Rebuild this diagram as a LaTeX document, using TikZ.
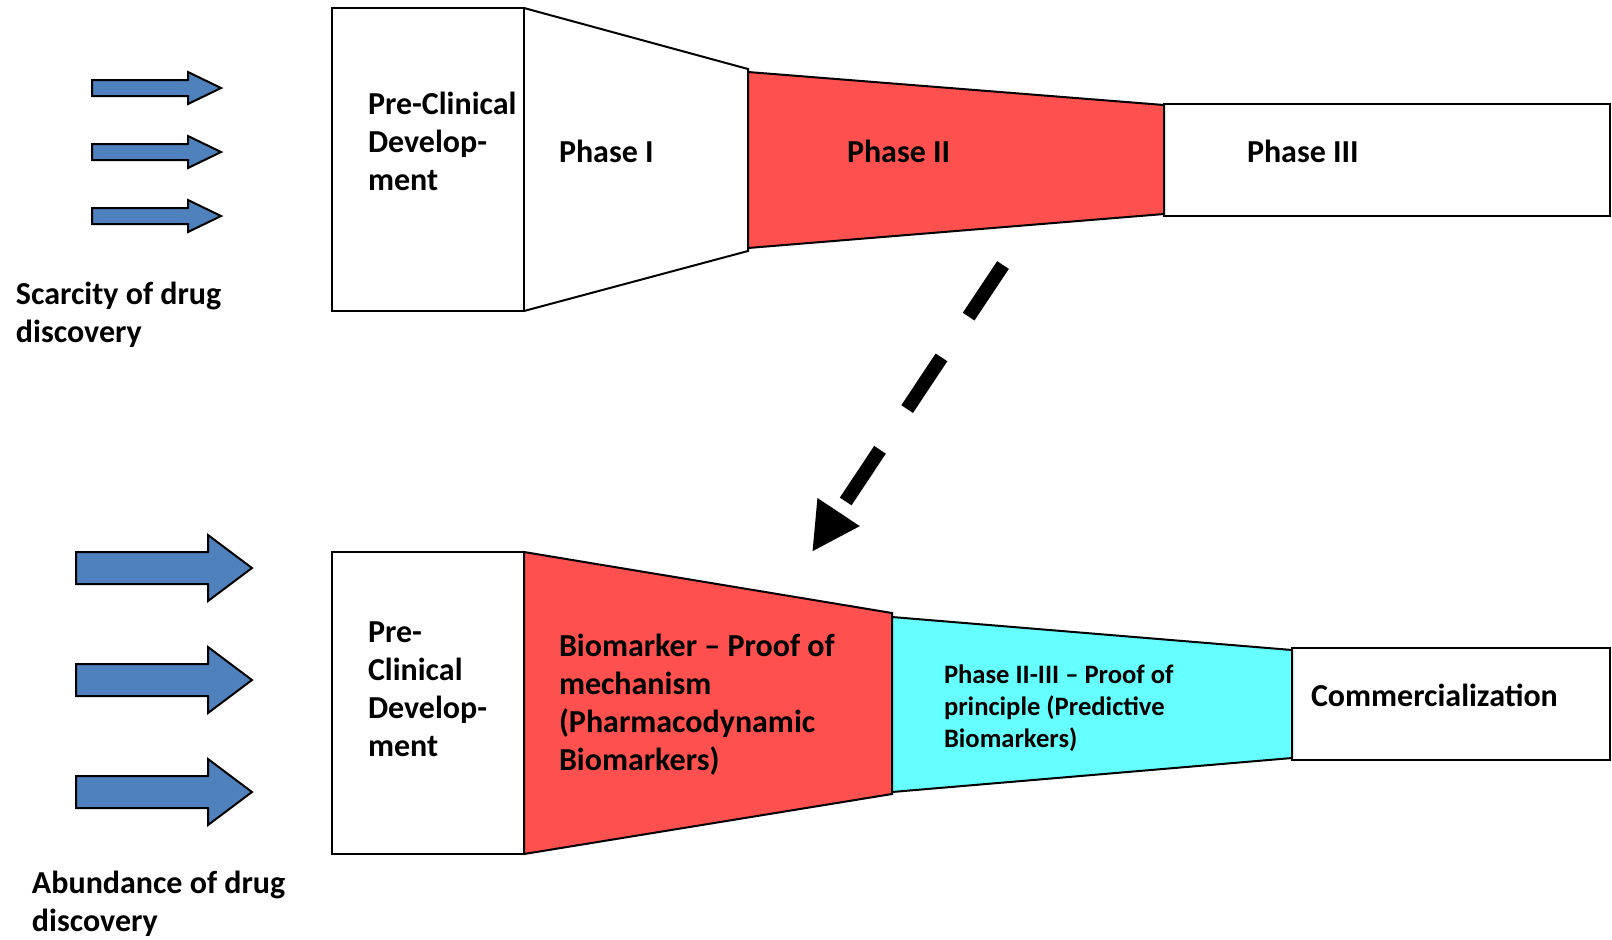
\documentclass[tikz,border=0pt]{standalone}
\usepackage{fontspec}
\setmainfont{Carlito}
\usetikzlibrary{arrows.meta}
\definecolor{arrowblue}{HTML}{4F81BD}
\definecolor{phasered}{HTML}{FF5050}
\definecolor{phasecyan}{HTML}{66FFFF}

\begin{document}
\begin{tikzpicture}[x=0.5pt, y=-0.5pt, line width=1pt,
    stage/.style={draw=black, line join=miter},
    lbl/.style={anchor=west, align=left, inner sep=0pt, font=\fontsize{16}{19}\selectfont\bfseries},
    small lbl/.style={lbl, font=\fontsize{13.3}{16}\selectfont\bfseries}]
    \useasboundingbox (0,0) rectangle (1612,939);

    \foreach \y in {88,152,216}
        \filldraw[fill=arrowblue] (92,\y-8) -- (188,\y-8) -- (188,\y-16) -- (221,\y) -- (188,\y+16) -- (188,\y+8) -- (92,\y+8) -- cycle;
    \foreach \y in {568,680,792}
        \filldraw[fill=arrowblue] (76,\y-16) -- (208,\y-16) -- (208,\y-33) -- (252,\y) -- (208,\y+33) -- (208,\y+16) -- (76,\y+16) -- cycle;

    \draw[stage] (332,8) rectangle (524,311);
    \draw[stage] (524,8) -- (748,69) -- (748,251) -- (524,311);
    \filldraw[stage, fill=phasered] (748,72) -- (1164,105) -- (1164,214) -- (748,248) -- cycle;
    \draw[stage] (1164,104) rectangle (1610,216);

    \draw[stage] (332,552) rectangle (524,854);
    \filldraw[stage, fill=phasered] (524,552) -- (892,613) -- (892,794) -- (524,854) -- cycle;
    \filldraw[stage, fill=phasecyan] (892,617) -- (1292,650) -- (1292,758) -- (892,792) -- cycle;
    \draw[stage] (1292,648) rectangle (1610,760);

    \coordinate (dashstart) at (1003,265);
    \coordinate (dashtip) at (812,552);
    \draw[line width=7pt, dash pattern=on 31pt off 24.5pt, -{Triangle[length=24pt, width=23.5pt]}] (dashstart) -- (dashtip);
    %虚线箭头%

    \node[lbl] (scarcity) at (15,315) {Scarcity of drug\\discovery};
    \node[lbl] (abundance) at (31,904) {Abundance of drug\\discovery};
    \node[lbl] (preclinA) at (367,141) {Pre-Clinical\\Develop-\\ment};
    \node[lbl] (phaseI) at (558,151) {Phase I};
    \node[lbl] (phaseII) at (846,151) {Phase II};
    \node[lbl] (phaseIII) at (1246,151) {Phase III};
    \node[lbl] (preclinB) at (367,689) {Pre-\\Clinical\\Develop-\\ment};
    \node[lbl] (mechanism) at (558,705) {Biomarker -- Proof of\\mechanism\\(Pharmacodynamic\\Biomarkers)};
    \node[small lbl] (principle) at (943,708) {Phase II-III -- Proof of\\principle (Predictive\\Biomarkers)};
    \node[lbl] (commercial) at (1310,695) {Commercialization};
\end{tikzpicture}
\end{document}
